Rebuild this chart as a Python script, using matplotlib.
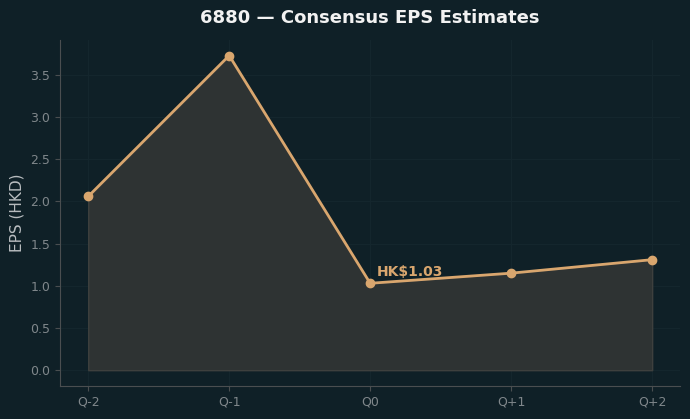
import matplotlib.pyplot as plt

# Consensus EPS estimates (HKD)
quarters = ["Q-2", "Q-1", "Q0", "Q+1", "Q+2"]
eps = [2.06, 3.73, 1.03, 1.15, 1.31]
current_idx = 2

bg = "#0f2027"
line_color = "#d9a66e"

fig, ax = plt.subplots(figsize=(6.9, 4.19), dpi=100)
fig.patch.set_facecolor(bg)
ax.set_facecolor(bg)

x = list(range(len(quarters)))
ax.fill_between(x, eps, 0, color="#2e3333", edgecolor="#3e403e", linewidth=1)
ax.plot(x, eps, color=line_color, linewidth=2, marker="o", markersize=6)

ax.annotate(f"HK${eps[current_idx]:.2f}", (x[current_idx], eps[current_idx]),
            xytext=(5, 5), textcoords="offset points",
            color=line_color, fontsize=10, fontweight="bold")

ax.set_xticks(x)
ax.set_xticklabels(quarters)
ax.set_ylabel("EPS (HKD)", color="#b8bcbf", fontsize=11)
ax.set_title("6880 — Consensus EPS Estimates", color="#f2f2f2", fontsize=13,
             fontweight="bold", pad=12)

ax.grid(True, color="#14262d", linewidth=0.8)
ax.set_axisbelow(True)
for side in ["top", "right"]:
    ax.spines[side].set_visible(False)
for side in ["left", "bottom"]:
    ax.spines[side].set_color("#4a4e50")
ax.tick_params(colors="#80878b", labelsize=9)
ax.tick_params(axis="both", color="#4a4e50")

plt.subplots_adjust(left=0.087, right=0.986, top=0.905, bottom=0.079)
plt.savefig("out.png", facecolor=bg)
